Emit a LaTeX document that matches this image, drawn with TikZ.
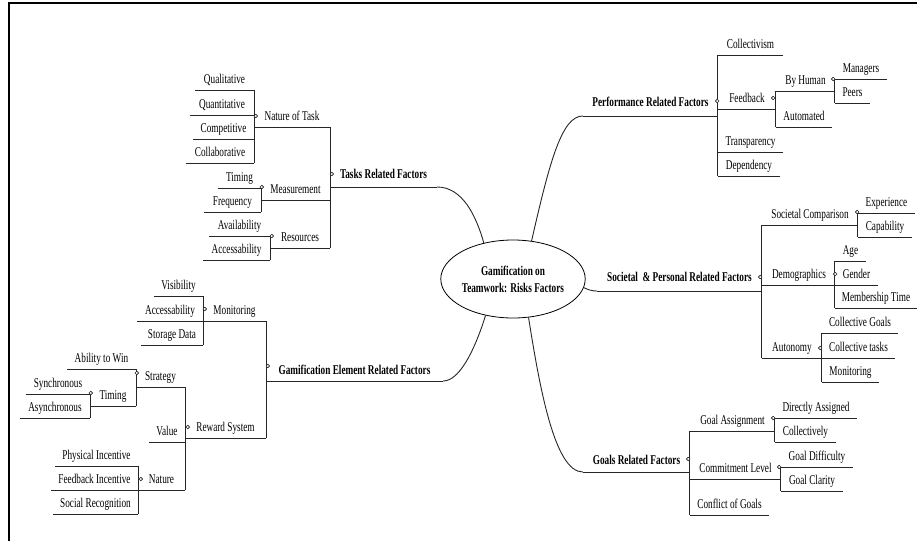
\documentclass[tikz,border=0pt]{standalone}
\usepackage{fontspec}
\setmainfont{Liberation Serif}[FakeStretch=0.69]
\usetikzlibrary{shapes.geometric}
\tikzset{
  item/.style={inner sep=0pt, text depth=6.5pt, text height=9pt, anchor=south, font=\fontsize{13.4}{15}\selectfont},
  mainitem/.style={item, text depth=8pt, font=\fontsize{13.4}{15}\selectfont\bfseries},
  uline/.style={line width=0.9pt, black!85},
  bracket/.style={line width=0.9pt, black!85},
  branch/.style={line width=0.9pt, black!85},
  knob/.style={circle, draw=black!85, fill=white, inner sep=0pt, minimum size=3.6pt, line width=0.6pt},
  hub/.style={ellipse, draw, line width=0.8pt, minimum width=140pt, minimum height=78pt, inner sep=0pt, align=center, font=\fontsize{13.4}{17}\selectfont\bfseries},
  frame/.style={line width=1.8pt, black}
}
% \itm[style]{name}{x1}{x2}{y of underline}{text}
\newcommand\itm[6][]{\node[item,#1,minimum width={(#4-#3)*1pt}] (#2) at ({(#3+#4)/2},#5) {#6};}
\newcommand\knobL[3]{\node[knob] (k#1) at ([shift={(#2pt,#3pt)}]#1.south west) {};}
\newcommand\knobR[3]{\node[knob] (k#1) at ([shift={(-#2pt,#3pt)}]#1.south east) {};}
\begin{document}
\begin{tikzpicture}[x=1pt,y=-1pt]
\useasboundingbox (0,0) rectangle (917,541);
\draw[frame] (9,541) -- (9,3) -- (917,3);

% centre
\node[hub] (hub) at (513,279) {Gamification on\\Teamwork: Risks Factors};

% ---------- Tasks Related Factors ----------
\itm[mainitem]{tasks}{330}{437}{187}{Tasks Related Factors}
\itm{nature}{254}{330}{127}{Nature of Task}
\itm{meas}{261}{330}{200}{Measurement}
\itm{res}{270}{330}{248}{Resources}
\itm{qual}{195}{254}{90}{Qualitative}
\itm{quan}{190}{254}{115}{Quantitative}
\itm{comp}{193}{254}{139}{Competitive}
\itm{coll}{186}{254}{163}{Collaborative}
\itm{timinga}{218}{261}{188}{Timing}
\itm{freq}{204}{261}{212}{Frequency}
\itm{avail}{209}{270}{236}{Availability}
\itm{accessa}{203}{270}{260}{Accessability}

% ---------- Gamification Element Related Factors ----------
\itm[mainitem,text depth=6pt]{gam}{266}{443}{381}{Gamification Element Related Factors}
\itm{mon}{203}{266}{321}{Monitoring}
\itm{rew}{185}{266}{438}{Reward System}
\itm{vis}{154}{203}{296}{Visibility}
\itm{accessb}{137}{203}{321}{Accessability}
\itm{stor}{141}{203}{345}{Storage Data}
\itm{strat}{136}{185}{387}{Strategy}
\itm{value}{149}{185}{442}{Value}
\itm{natr}{138}{185}{490}{Nature}
\itm{abil}{67}{136}{369}{Ability to Win}
\itm{timingb}{90}{136}{406}{Timing}
\itm{sync}{26}{90}{394}{Synchronous}
\itm{async}{20}{90}{418}{Asynchronous}
\itm{phys}{55}{138}{466}{Physical Incentive}
\itm{fbinc}{51}{138}{490}{Feedback Incentive}
\itm{social}{53}{138}{514}{Social Recognition}

% ---------- Performance Related Factors ----------
\itm[mainitem,text depth=9pt]{perf}{583}{718}{116}{Performance Related Factors}
\itm{collv}{718}{783}{55}{Collectivism}
\itm{feed}{718}{776}{109}{Feedback}
\itm{transp}{718}{783}{152}{Transparency}
\itm{dep}{718}{780}{176}{Dependency}
\itm{byh}{776}{835}{91}{By Human}
\itm{auto}{776}{832}{127}{Automated}
\itm{mgr}{835}{887}{79}{Managers}
\itm{peers}{835}{870}{103}{Peers}

% ---------- Societal & Personal Related Factors ----------
\itm[mainitem,text depth=9pt]{soc}{597}{762}{291}{Societal\ \ \& Personal Related Factors}
\itm{socc}{762}{858}{225}{Societal Comparison}
\itm{demo}{762}{836}{285}{Demographics}
\itm{auton}{762}{822}{358}{Autonomy}
\itm{exper}{858}{915}{213}{Experience}
\itm{capab}{858}{912}{237}{Capability}
\itm{age}{835}{866}{261}{Age}
\itm{gender}{835}{878}{285}{Gender}
\itm{member}{835}{917}{308}{Membership Time}
\itm{cgoals}{822}{898}{333}{Collective Goals}
\itm{ctasks}{822}{895}{358}{Collective tasks}
\itm{monit}{822}{879}{382}{Monitoring}

% ---------- Goals Related Factors ----------
\itm[mainitem,text depth=7pt]{goals}{583}{690}{472}{Goals Related Factors}
\itm{gassign}{690}{775}{431}{Goal Assignment}
\itm{commit}{690}{781}{479}{Commitment Level}
\itm{conflict}{690}{769}{515}{Conflict of Goals}
\itm{direct}{775}{857}{418}{Directly Assigned}
\itm{collect}{775}{836}{442}{Collectively}
\itm{gdiff}{781}{853}{467}{Goal Difficulty}
\itm{gclar}{781}{843}{491}{Goal Clarity}

% underlines
\foreach \n in {tasks,nature,meas,res,qual,quan,comp,coll,timinga,freq,avail,accessa,
  gam,mon,rew,vis,accessb,stor,strat,value,natr,abil,timingb,sync,async,phys,fbinc,social,
  perf,collv,feed,transp,dep,byh,auto,mgr,peers,
  soc,socc,demo,auton,exper,capab,age,gender,member,cgoals,ctasks,monit,
  goals,gassign,commit,conflict,direct,collect,gdiff,gclar}
  \draw[uline] (\n.south west) -- (\n.south east);

% brackets, left side
\draw[bracket] (nature.south east) -- (res.south east);
\draw[bracket] (qual.south east) -- (coll.south east);
\draw[bracket] (timinga.south east) -- (freq.south east);
\draw[bracket] (avail.south east) -- (accessa.south east);
\draw[bracket] (mon.south east) -- (rew.south east);
\draw[bracket] (vis.south east) -- (stor.south east);
\draw[bracket] (strat.south east) -- (natr.south east);
\draw[bracket] (abil.south east) -- (timingb.south east);
\draw[bracket] (sync.south east) -- (async.south east);
\draw[bracket] (phys.south east) -- (social.south east);
% brackets, right side
\draw[bracket] (collv.south west) -- (dep.south west);
\draw[bracket] (byh.south west) -- (auto.south west);
\draw[bracket] (mgr.south west) -- (peers.south west);
\draw[bracket] (socc.south west) -- (auton.south west);
\draw[bracket] (exper.south west) -- (capab.south west);
\draw[bracket] (age.south west) -- (member.south west);
\draw[bracket] (cgoals.south west) -- (monit.south west);
\draw[bracket] (gassign.south west) -- (conflict.south west);
\draw[bracket] (direct.south west) -- (collect.south west);
\draw[bracket] (gdiff.south west) -- (gclar.south west);

% main branches
\draw[branch] (tasks.south east) .. controls (462,187) and (476,215) .. (hub.129);
\draw[branch] (gam.south east) .. controls (462,381) and (478,340) .. (hub.-127);
\draw[branch] (hub.64) .. controls (550,160) and (562,116) .. (perf.south west);
\draw[branch] (hub.-7) .. controls (589,290) and (592,291) .. (soc.south west);
\draw[branch] (hub.-68) .. controls (540,390) and (555,472) .. (goals.south west);

% collapse knobs
\knobL{tasks}{2}{13}
\knobL{nature}{2}{11}
\knobL{meas}{1}{13}
\knobL{res}{2}{12}
\knobL{gam}{2}{15}
\knobL{mon}{2}{12}
\knobL{rew}{3}{11}
\knobL{strat}{1}{14}
\knobL{timingb}{1}{13}
\knobL{natr}{3}{11}
\knobR{perf}{1}{15}
\knobR{feed}{3}{11}
\knobR{byh}{2}{12}
\knobR{soc}{2}{14}
\knobR{socc}{1}{13}
\knobR{demo}{1}{11}
\knobR{auton}{2}{10}
\knobR{goals}{2}{13}
\knobR{gassign}{2}{13}
\knobR{commit}{2}{12}
\end{tikzpicture}
\end{document}
